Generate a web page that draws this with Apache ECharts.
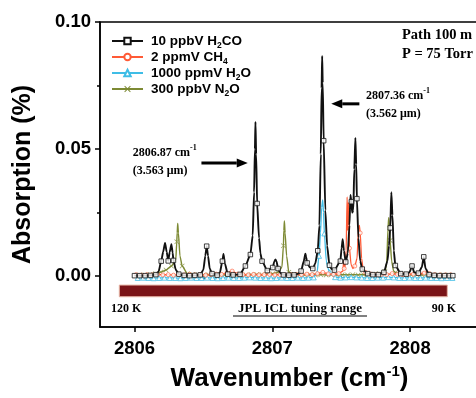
<!DOCTYPE html>
<html>
<head>
<meta charset="utf-8">
<script src="https://cdn.jsdelivr.net/npm/echarts@6/dist/echarts.min.js"></script>
<style>
  html, body { margin: 0; padding: 0; background: #fff; }
  #chart { width: 476px; height: 398px; }
</style>
</head>
<body>
<div id="chart"></div>
<script>
// ---- axis ticks ----
const xTickMajor = [2806, 2807, 2808];
const xTickMinor = [2806.5, 2807.5];
const yTickMajor = [0, 0.05, 0.10];
const yTickMinor = [0.025, 0.075];

// ---- gases shown (legend order) ----
const gasNames = ['10 ppbV H2CO', '2 ppmV CH4', '1000 ppmV H2O', '300 ppbV N2O'];

// ---- H2CO: marked samples and extra points that shape the peaks ----
const h2coSamples = [
  [2806.000,0.0002],[2806.038,0.0002],[2806.077,0.0002],[2806.116,0.0003],[2806.155,0.0006],
  [2806.194,0.0059],[2806.245,0.0060],[2806.283,0.0062],[2806.322,0.0008],[2806.361,0.0003],
  [2806.400,0.0002],[2806.438,0.0003],[2806.477,0.0005],[2806.524,0.0118],[2806.563,0.0010],
  [2806.600,0.0004],[2806.638,0.0059],[2806.677,0.0008],[2806.716,0.0005],[2806.766,0.0007],
  [2806.805,0.0040],[2806.841,0.0085],[2806.890,0.0286],[2806.926,0.0059],[2806.964,0.0022],
  [2807.003,0.0034],[2807.042,0.0030],[2807.081,0.0005],[2807.120,0.0004],[2807.158,0.0005],
  [2807.209,0.0020],[2807.253,0.0052],[2807.294,0.0030],[2807.330,0.0100],[2807.373,0.0533],
  [2807.415,0.0043],[2807.451,0.0024],[2807.494,0.0059],[2807.533,0.0056],[2807.574,0.0293],
  [2807.614,0.0305],[2807.653,0.0028],[2807.692,0.0010],[2807.730,0.0006],[2807.770,0.0006],
  [2807.810,0.0015],[2807.856,0.0190],[2807.893,0.0042],[2807.932,0.0010],[2807.972,0.0008],
  [2808.014,0.0040],[2808.060,0.0012],[2808.099,0.0076],[2808.138,0.0006],[2808.175,0.0003],
  [2808.213,0.0002],[2808.250,0.0002],[2808.285,0.0002],[2808.310,0.0002]
];
const h2coPeaks = [
  [2806.175,0.0018],[2806.208,0.0095],[2806.222,0.0131],[2806.234,0.0095],[2806.256,0.0095],
  [2806.268,0.0126],[2806.277,0.0092],[2806.300,0.0025],
  [2806.500,0.0025],[2806.514,0.0080],[2806.534,0.0080],[2806.546,0.0030],
  [2806.620,0.0015],[2806.646,0.0087],[2806.656,0.0050],
  [2806.858,0.0160],[2806.868,0.0330],[2806.874,0.0500],[2806.878,0.0607],[2806.883,0.0480],
  [2806.904,0.0150],[2806.914,0.0090],
  [2807.015,0.0058],[2807.023,0.0066],[2807.031,0.0058],[2807.060,0.0012],
  [2807.190,0.0010],[2807.229,0.0060],[2807.240,0.0088],[2807.246,0.0075],
  [2807.272,0.0035],[2807.312,0.0050],
  [2807.342,0.0200],[2807.352,0.0480],[2807.358,0.0740],[2807.362,0.0866],[2807.366,0.0760],
  [2807.385,0.0260],[2807.398,0.0120],[2807.430,0.0028],
  [2807.503,0.0110],[2807.511,0.0145],[2807.520,0.0100],
  [2807.548,0.0090],[2807.560,0.0200],[2807.567,0.0320],[2807.580,0.0250],[2807.588,0.0260],
  [2807.595,0.0420],[2807.603,0.0544],[2807.609,0.0440],[2807.625,0.0150],[2807.638,0.0060],
  [2807.836,0.0060],[2807.847,0.0120],[2807.864,0.0330],[2807.872,0.0240],[2807.882,0.0100],
  [2807.995,0.0015],[2808.030,0.0015],[2808.085,0.0035],[2808.112,0.0030]
];

// ---- CH4 ----
const ch4Samples = [
  [2806.012,0.0006],[2806.051,0.0004],[2806.090,0.0006],[2806.128,0.0005],[2806.167,0.0007],
  [2806.206,0.0005],[2806.245,0.0006],[2806.283,0.0004],[2806.322,0.0006],[2806.361,0.0005],
  [2806.400,0.0007],[2806.438,0.0005],[2806.477,0.0006],[2806.516,0.0004],[2806.554,0.0006],
  [2806.593,0.0008],[2806.632,0.0007],[2806.670,0.0012],[2806.709,0.0020],[2806.748,0.0008],
  [2806.787,0.0006],[2806.825,0.0005],[2806.864,0.0007],[2806.903,0.0005],[2806.941,0.0006],
  [2806.980,0.0007],[2807.019,0.0005],[2807.057,0.0006],[2807.096,0.0005],[2807.135,0.0006],
  [2807.173,0.0007],[2807.212,0.0006],[2807.251,0.0008],[2807.289,0.0006],[2807.328,0.0010],
  [2807.367,0.0015],[2807.406,0.0009],[2807.444,0.0007],[2807.483,0.0010],[2807.522,0.0030],
  [2807.560,0.0110],[2807.599,0.0040],[2807.638,0.0170],[2807.676,0.0015],[2807.715,0.0008],
  [2807.754,0.0006],[2807.792,0.0007],[2807.831,0.0006],[2807.870,0.0010],[2807.908,0.0007],
  [2807.947,0.0006],[2807.986,0.0007],[2808.024,0.0008],[2808.063,0.0009],[2808.102,0.0012],
  [2808.140,0.0010],[2808.179,0.0006],[2808.218,0.0005],[2808.256,0.0005],[2808.295,0.0005]
];
const ch4Peaks = [
  [2807.513,0.0020],[2807.518,0.0063],[2807.526,0.0025],[2807.536,0.0100],[2807.543,0.0312],
  [2807.548,0.0180],[2807.553,0.0290],[2807.557,0.0200],[2807.572,0.0045],[2807.585,0.0030],
  [2807.615,0.0070],[2807.626,0.0190],[2807.632,0.0200],[2807.648,0.0070],[2807.660,0.0025],
  [2808.120,0.0017]
];

// ---- H2O ----
const h2oSamples = [
  [2806.024,-0.0007],[2806.063,-0.0006],[2806.101,-0.0007],[2806.140,-0.0008],[2806.179,-0.0007],
  [2806.217,-0.0006],[2806.256,-0.0007],[2806.295,-0.0007],[2806.333,-0.0008],[2806.372,-0.0007],
  [2806.411,-0.0006],[2806.450,-0.0007],[2806.488,-0.0007],[2806.527,-0.0006],[2806.566,-0.0007],
  [2806.604,-0.0008],[2806.643,-0.0007],[2806.682,-0.0006],[2806.720,-0.0007],[2806.759,-0.0007],
  [2806.798,-0.0006],[2806.836,-0.0005],[2806.875,-0.0006],[2806.914,-0.0007],[2806.953,-0.0007],
  [2806.991,-0.0008],[2807.030,-0.0007],[2807.069,-0.0006],[2807.107,-0.0007],[2807.146,-0.0007],
  [2807.185,-0.0006],[2807.223,-0.0007],[2807.262,-0.0006],[2807.301,-0.0005],[2807.339,0.0080],
  [2807.378,0.0168],[2807.417,0.0015],[2807.456,-0.0004],[2807.494,-0.0006],[2807.533,-0.0005],
  [2807.572,-0.0004],[2807.610,-0.0005],[2807.649,-0.0006],[2807.688,-0.0007],[2807.726,-0.0007],
  [2807.765,-0.0006],[2807.804,-0.0006],[2807.842,-0.0004],[2807.881,-0.0005],[2807.920,-0.0007],
  [2807.959,-0.0007],[2807.997,-0.0006],[2808.036,-0.0007],[2808.075,-0.0007],[2808.113,-0.0006],
  [2808.152,-0.0007],[2808.191,-0.0007],[2808.229,-0.0008],[2808.268,-0.0007],[2808.307,-0.0007]
];
const h2oPeaks = [
  [2807.325,0.0015],[2807.350,0.0170],[2807.358,0.0270],[2807.366,0.0300],[2807.372,0.0250],
  [2807.392,0.0060],[2807.405,0.0030]
];

// ---- N2O ----
const n2oSamples = [
  [2806.036,0.0005],[2806.075,0.0005],[2806.113,0.0007],[2806.152,0.0010],[2806.191,0.0016],
  [2806.229,0.0024],[2806.268,0.0040],[2806.307,0.0135],[2806.346,0.0040],[2806.384,0.0010],
  [2806.423,0.0007],[2806.462,0.0006],[2806.500,0.0005],[2806.539,0.0006],[2806.578,0.0005],
  [2806.617,0.0006],[2806.655,0.0005],[2806.694,0.0006],[2806.733,0.0005],[2806.771,0.0006],
  [2806.810,0.0005],[2806.849,0.0006],[2806.888,0.0007],[2806.926,0.0006],[2806.965,0.0008],
  [2807.004,0.0010],[2807.042,0.0015],[2807.081,0.0120],[2807.120,0.0015],[2807.158,0.0008],
  [2807.197,0.0006],[2807.236,0.0005],[2807.275,0.0006],[2807.313,0.0005],[2807.352,0.0006],
  [2807.391,0.0005],[2807.429,0.0006],[2807.468,0.0005],[2807.507,0.0006],[2807.546,0.0005],
  [2807.584,0.0006],[2807.623,0.0005],[2807.662,0.0006],[2807.700,0.0007],[2807.739,0.0008],
  [2807.778,0.0010],[2807.817,0.0018],[2807.855,0.0140],[2807.894,0.0014],[2807.933,0.0008],
  [2807.971,0.0006],[2808.010,0.0005],[2808.049,0.0006],[2808.087,0.0005],[2808.126,0.0005],
  [2808.165,0.0005],[2808.203,0.0005],[2808.242,0.0005],[2808.281,0.0005]
];
const n2oPeaks = [
  [2806.300,0.0065],[2806.310,0.0170],[2806.314,0.0207],[2806.319,0.0170],[2806.330,0.0080],
  [2807.070,0.0035],[2807.084,0.0180],[2807.088,0.0217],[2807.093,0.0170],[2807.104,0.0080],
  [2807.830,0.0050],[2807.840,0.0190],[2807.845,0.0230],[2807.850,0.0190],[2807.866,0.0060],
  [2807.880,0.0020]
];

// ---- laser tuning range band (wavenumber span, absorption span) ----
const tuningRange = [2805.89, 2808.27];
const tuningBand = [-0.0035, -0.0081];

// ---- line annotations: [wavenumber label, wavelength label], text anchor, arrow from/to ----
const lineNotes = [
  { wn: '2806.87', um: '3.563', anchor: [2805.987, 0.0450], from: [2806.486, 0.0445], to: [2806.822, 0.0445] },
  { wn: '2807.36', um: '3.562', anchor: [2807.680, 0.0674], from: [2807.632, 0.0678], to: [2807.428, 0.0678] }
];

const SANS = 'Liberation Sans, Arial, sans-serif';
const SERIF = 'Liberation Serif, Times New Roman, serif';
const colors = { h2co: '#111111', ch4: '#ff5a36', h2o: '#3fbde6', n2o: '#7d8a34' };
const crossPath = 'path://M0,1L1,0L5,4L9,0L10,1L6,5L10,9L9,10L5,6L1,10L0,9L4,5Z';

function trace(samples, extra) {
  return samples.concat(extra).sort((a, b) => a[0] - b[0]);
}

function gasSeries(name, samples, extra, color, lineSymbol, markSymbol, markSize, width, z, markStyle) {
  return [
    {
      name: name, type: 'line', data: trace(samples, extra),
      symbol: lineSymbol, showSymbol: false, smooth: 0.2, smoothMonotone: 'x',
      lineStyle: { color: color, width: width }, itemStyle: { color: color },
      z: z, silent: true
    },
    {
      name: name + ' samples', type: 'scatter', data: samples,
      symbol: markSymbol, symbolSize: markSize, itemStyle: markStyle,
      z: z + 1, silent: true
    }
  ];
}

const legendRich = {
  '10 ppbV H2CO': '{t|10 ppbV H}{s|2}{t|CO}',
  '2 ppmV CH4': '{t|2 ppmV CH}{s|4}',
  '1000 ppmV H2O': '{t|1000 ppmV H}{s|2}{t|O}',
  '300 ppbV N2O': '{t|300 ppbV N}{s|2}{t|O}'
};

const chart = echarts.init(document.getElementById('chart'), null, { renderer: 'canvas' });

const series = [].concat(
  gasSeries(gasNames[3], n2oSamples, n2oPeaks, colors.n2o, crossPath, crossPath, 5, 1.4, 2,
    { color: colors.n2o }),
  gasSeries(gasNames[2], h2oSamples, h2oPeaks, colors.h2o, 'emptyTriangle', 'triangle', 5, 1.3, 4,
    { color: '#fff', borderColor: colors.h2o, borderWidth: 1 }),
  gasSeries(gasNames[1], ch4Samples, ch4Peaks, colors.ch4, 'emptyCircle', 'circle', 4, 1.3, 6,
    { color: '#fff', borderColor: colors.ch4, borderWidth: 0.8 }),
  gasSeries(gasNames[0], h2coSamples, h2coPeaks, colors.h2co, 'emptyRect', 'rect', 4.5, 1.9, 8,
    { color: '#fff', borderColor: colors.h2co, borderWidth: 1 })
);

// tuning range drawn as a filled band in data space
series.push({
  name: 'tuning', type: 'line', data: [], silent: true,
  markArea: {
    silent: true,
    itemStyle: { color: '#7a1418', borderColor: '#e9b7a8', borderWidth: 1 },
    data: [[{ coord: [tuningRange[0], tuningBand[0]] }, { coord: [tuningRange[1], tuningBand[1]] }]]
  },
  z: 1
});

const axisLineStyle = { color: '#000', width: 1.5 };

const option = {
  animation: false,
  backgroundColor: '#fff',
  grid: { left: 100, top: 22, right: -3, bottom: 71, show: true, borderColor: '#000', borderWidth: 1.5,
          backgroundColor: 'transparent', containLabel: false, outerBoundsMode: 'none' },
  legend: {
    data: gasNames, orient: 'vertical', left: 106, top: 29,
    itemWidth: 31, itemHeight: 8, itemGap: 0,
    selectedMode: false,
    formatter: n => legendRich[n],
    textStyle: {
      padding: [0, 0, 0, 3],
      rich: {
        t: { fontFamily: SANS, fontWeight: 'bold', fontSize: 13.5, color: '#000', lineHeight: 18 },
        s: { fontFamily: SANS, fontWeight: 'bold', fontSize: 8.5, color: '#000', verticalAlign: 'bottom', lineHeight: 10 }
      }
    }
  },
  xAxis: [
    {
      type: 'value', min: 2805.75, max: 2808.5, position: 'bottom',
      name: '{a|Wavenumber (cm}{p|-1}{a|)}', nameLocation: 'middle', nameGap: 37,
      nameTextStyle: {
        rich: {
          a: { fontFamily: SANS, fontWeight: 'bold', fontSize: 26, color: '#000', lineHeight: 30 },
          p: { fontFamily: SANS, fontWeight: 'bold', fontSize: 15, color: '#000', verticalAlign: 'top', lineHeight: 14 }
        }
      },
      axisLine: { show: true, onZero: false, lineStyle: axisLineStyle },
      axisTick: { show: true, inside: false, length: 5, customValues: xTickMajor, lineStyle: axisLineStyle },
      axisLabel: { show: true, customValues: xTickMajor, margin: 12,
        fontFamily: SANS, fontWeight: 'bold', fontSize: 18.5, color: '#000', formatter: v => String(v) },
      splitLine: { show: false }
    },
    {
      type: 'value', min: 2805.75, max: 2808.5, position: 'bottom',
      axisLine: { show: false },
      axisTick: { show: true, inside: false, length: 3, customValues: xTickMinor, lineStyle: axisLineStyle },
      axisLabel: { show: false }, splitLine: { show: false }
    }
  ],
  yAxis: [
    {
      type: 'value', min: -0.02, max: 0.10, position: 'left',
      name: 'Absorption (%)', nameLocation: 'middle', nameGap: 64, nameRotate: 90,
      nameTextStyle: { fontFamily: SANS, fontWeight: 'bold', fontSize: 25, color: '#000' },
      axisLine: { show: true, onZero: false, lineStyle: axisLineStyle },
      axisTick: { show: true, inside: false, length: 5, customValues: yTickMajor, lineStyle: axisLineStyle },
      axisLabel: { show: true, customValues: yTickMajor, margin: 9,
        fontFamily: SANS, fontWeight: 'bold', fontSize: 18.5, color: '#000', formatter: v => v.toFixed(2) },
      splitLine: { show: false }
    },
    {
      type: 'value', min: -0.02, max: 0.10, position: 'left',
      axisLine: { show: false },
      axisTick: { show: true, inside: false, length: 3, customValues: yTickMinor, lineStyle: axisLineStyle },
      axisLabel: { show: false }, splitLine: { show: false }
    }
  ],
  series: series
};

chart.setOption(option);

// ---- annotations placed from data coordinates ----
const toPx = p => chart.convertToPixel({ xAxisIndex: 0, yAxisIndex: 0 }, p);

function arrow(from, to) {
  const a = toPx(from), b = toPx(to);
  const dx = b[0] - a[0], dy = b[1] - a[1];
  const len = Math.hypot(dx, dy), ux = dx / len, uy = dy / len;
  const head = 11, half = 4.5;
  const bx = b[0] - ux * head, by = b[1] - uy * head;
  return [
    { type: 'line', silent: true, shape: { x1: a[0], y1: a[1], x2: bx, y2: by },
      style: { stroke: '#000', lineWidth: 3 } },
    { type: 'polygon', silent: true,
      shape: { points: [[b[0], b[1]], [bx - uy * half, by + ux * half], [bx + uy * half, by - ux * half]] },
      style: { fill: '#000' } }
  ];
}

const noteRich = {
  a: { fontFamily: SERIF, fontWeight: 'bold', fontSize: 12, color: '#000', lineHeight: 18 },
  p: { fontFamily: SERIF, fontWeight: 'bold', fontSize: 8, color: '#000', verticalAlign: 'top', lineHeight: 12 }
};

const graphics = [];
lineNotes.forEach(n => {
  const p = toPx(n.anchor);
  graphics.push({
    type: 'text', silent: true, x: p[0], y: p[1],
    style: { text: '{a|' + n.wn + ' cm}{p|-1}\n{a|(' + n.um + ' \u03bcm)}', rich: noteRich,
             align: 'left', verticalAlign: 'middle' }
  });
  arrow(n.from, n.to).forEach(g => graphics.push(g));
});

// experiment conditions
graphics.push({
  type: 'text', silent: true, x: 402, y: 45,
  style: { text: 'Path 100 m\nP = 75 Torr', font: 'bold 14.5px ' + SERIF, fill: '#000',
           lineHeight: 19, align: 'left', verticalAlign: 'middle' }
});

// tuning range captions
const bandLabelY = 309;
graphics.push(
  { type: 'text', silent: true, x: 111, y: bandLabelY,
    style: { text: '120 K', font: 'bold 12px ' + SERIF, fill: '#000', align: 'left', verticalAlign: 'middle' } },
  { type: 'text', silent: true, x: 300, y: bandLabelY,
    style: { text: 'JPL ICL tuning range', font: 'bold 13px ' + SERIF, fill: '#000', align: 'center', verticalAlign: 'middle' } },
  { type: 'line', silent: true, shape: { x1: 233, y1: bandLabelY + 7, x2: 367, y2: bandLabelY + 7 },
    style: { stroke: '#000', lineWidth: 1 } },
  { type: 'text', silent: true, x: 456, y: bandLabelY,
    style: { text: '90 K', font: 'bold 12px ' + SERIF, fill: '#000', align: 'right', verticalAlign: 'middle' } }
);

chart.setOption({ graphic: graphics });
</script>
</body>
</html>
